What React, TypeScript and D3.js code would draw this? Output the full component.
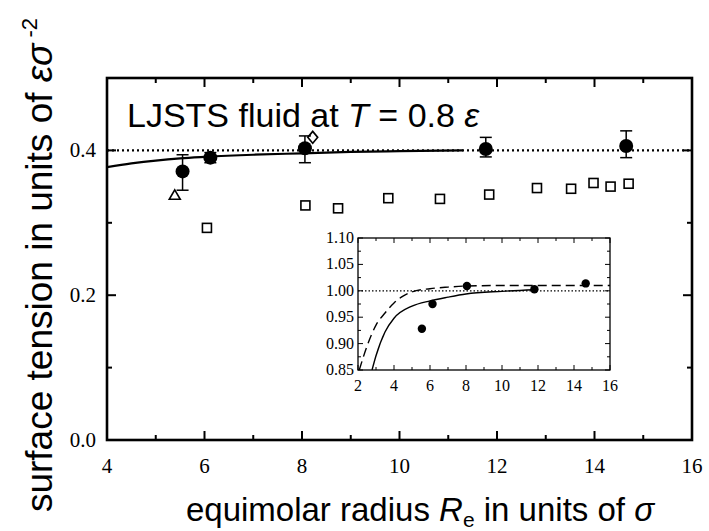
import React from "react";
import * as d3 from "d3";

// ---- data ----
const mainXTicks = [4, 6, 8, 10, 12, 14, 16];
const mainXMinor = [5, 7, 9, 11, 13, 15];
const mainYTicks = [0.0, 0.2, 0.4];
const mainYMinor = [0.1, 0.3];

const circleX = [5.55, 6.12, 8.06, 11.77, 14.65];
const circleY = [0.371, 0.390, 0.403, 0.402, 0.406];
const circleLo = [0.345, 0.383, 0.383, 0.391, 0.390];
const circleHi = [0.394, 0.397, 0.420, 0.418, 0.427];

const squareX = [6.05, 8.07, 8.74, 9.77, 10.83, 11.84, 12.82, 13.52, 13.98, 14.33, 14.7];
const squareY = [0.293, 0.324, 0.320, 0.334, 0.333, 0.339, 0.348, 0.347, 0.355, 0.350, 0.354];

const triangleX = [5.39];
const triangleY = [0.338];
const diamondX = [8.22];
const diamondY = [0.418];

const curveX = [4, 4.5, 5, 5.5, 6, 7, 8, 9, 10, 11.3];
const curveY = [0.377, 0.382, 0.386, 0.389, 0.391, 0.394, 0.396, 0.398, 0.399, 0.4];

const refLevel = 0.4;

// inset
const insetXTicks = [2, 4, 6, 8, 10, 12, 14, 16];
const insetXMinor = [3, 5, 7, 9, 11, 13, 15];
const insetYTicks = [0.85, 0.9, 0.95, 1.0, 1.05, 1.1];
const insetYMinor = [0.875, 0.925, 0.975, 1.025, 1.075];
const insetPtX = [5.55, 6.14, 8.05, 11.8, 14.65];
const insetPtY = [0.928, 0.975, 1.009, 1.003, 1.014];
const solidX = [2.78, 3, 3.5, 4, 5, 6, 7, 8, 10, 11.8];
const solidY = [0.85, 0.877, 0.922, 0.948, 0.971, 0.981, 0.988, 0.994, 0.999, 1.002];
const dashX = [2.07, 2.5, 3, 3.5, 4, 4.5, 5, 6, 7, 8, 10, 12, 14, 16];
const dashY = [0.85, 0.895, 0.935, 0.958, 0.977, 0.99, 0.998, 1.004, 1.007, 1.009, 1.01, 1.01, 1.01, 1.01];
const insetRef = 1.0;

// ---- layout ----
const W = 709, H = 531;
const M = { left: 107, right: 692, top: 78, bottom: 440 };
const I = { left: 358, right: 610, top: 238, bottom: 370 };
const SANS = "Liberation Sans, Arial, sans-serif";
const SERIF = "Liberation Serif, Times New Roman, DejaVu Serif, serif";

export default function App() {
  const x = d3.scaleLinear().domain([4, 16]).range([M.left, M.right]);
  const y = d3.scaleLinear().domain([0, 0.5]).range([M.bottom, M.top]);
  const ix = d3.scaleLinear().domain([2, 16]).range([I.left, I.right]);
  const iy = d3.scaleLinear().domain([0.85, 1.1]).range([I.bottom, I.top]);

  const line = d3.line<[number, number]>().x(d => x(d[0])).y(d => y(d[1])).curve(d3.curveMonotoneX);
  const iline = d3.line<[number, number]>().x(d => ix(d[0])).y(d => iy(d[1])).curve(d3.curveMonotoneX);

  const curvePts = curveX.map((v, i) => [v, curveY[i]] as [number, number]);
  const solidPts = solidX.map((v, i) => [v, solidY[i]] as [number, number]);
  const dashPts = dashX.map((v, i) => [v, dashY[i]] as [number, number]);

  const major = 9, minor = 5;
  const imajor = 5, iminor = 3;
  const serifStyle = { fontFamily: SERIF };

  return (
    <svg width={W} height={H} style={{ position: "absolute", left: 0, top: 0, background: "#fff" }}>
      <defs>
        <clipPath id="mainclip"><rect x={M.left} y={M.top} width={M.right - M.left} height={M.bottom - M.top} /></clipPath>
        <clipPath id="insetclip"><rect x={I.left} y={I.top} width={I.right - I.left} height={I.bottom - I.top} /></clipPath>
      </defs>

      {/* main ticks */}
      <g stroke="#000" strokeWidth={2}>
        {mainXTicks.map(t => (
          <g key={"xt" + t}>
            <line x1={x(t)} x2={x(t)} y1={M.bottom} y2={M.bottom - major} />
            <line x1={x(t)} x2={x(t)} y1={M.top} y2={M.top + major} />
          </g>
        ))}
        {mainXMinor.map(t => (
          <g key={"xm" + t}>
            <line x1={x(t)} x2={x(t)} y1={M.bottom} y2={M.bottom - minor} />
            <line x1={x(t)} x2={x(t)} y1={M.top} y2={M.top + minor} />
          </g>
        ))}
        {mainYTicks.map(t => (
          <g key={"yt" + t}>
            <line x1={M.left} x2={M.left + major} y1={y(t)} y2={y(t)} />
            <line x1={M.right} x2={M.right - major} y1={y(t)} y2={y(t)} />
          </g>
        ))}
        {mainYMinor.map(t => (
          <g key={"ym" + t}>
            <line x1={M.left} x2={M.left + minor} y1={y(t)} y2={y(t)} />
            <line x1={M.right} x2={M.right - minor} y1={y(t)} y2={y(t)} />
          </g>
        ))}
      </g>

      {/* main tick labels */}
      {mainXTicks.map(t => (
        <text key={"xl" + t} x={x(t)} y={M.bottom + 33} textAnchor="middle" style={serifStyle} fontSize={21} fill="#000">{t}</text>
      ))}
      {mainYTicks.map(t => (
        <text key={"yl" + t} x={M.left - 11} y={y(t) + 7} textAnchor="end" style={serifStyle} fontSize={21} fill="#000">{d3.format(".1f")(t)}</text>
      ))}

      <g clipPath="url(#mainclip)">
        <line x1={M.left} x2={M.right} y1={y(refLevel)} y2={y(refLevel)} stroke="#000" strokeWidth={2.2} strokeDasharray="2,3" />
        <path d={line(curvePts) || ""} fill="none" stroke="#000" strokeWidth={2.2} />
      </g>

      {/* open symbols */}
      <g fill="none" stroke="#000" strokeWidth={1.6}>
        {squareX.map((v, i) => (
          <rect key={"sq" + i} x={x(v) - 4.5} y={y(squareY[i]) - 4.5} width={9} height={9} />
        ))}
        {triangleX.map((v, i) => {
          const cx = x(v), cy = y(triangleY[i]);
          return <path key={"tr" + i} d={`M${cx},${cy - 5.5}L${cx + 5.5},${cy + 4}L${cx - 5.5},${cy + 4}Z`} />;
        })}
        {diamondX.map((v, i) => {
          const cx = x(v), cy = y(diamondY[i]);
          return <path key={"dm" + i} d={`M${cx},${cy - 6}L${cx + 5},${cy}L${cx},${cy + 6}L${cx - 5},${cy}Z`} />;
        })}
      </g>

      {/* error bars & circles */}
      <g stroke="#000" strokeWidth={1.5}>
        {circleX.map((v, i) => (
          <g key={"eb" + i}>
            <line x1={x(v)} x2={x(v)} y1={y(circleLo[i])} y2={y(circleHi[i])} />
            <line x1={x(v) - 6} x2={x(v) + 6} y1={y(circleLo[i])} y2={y(circleLo[i])} />
            <line x1={x(v) - 6} x2={x(v) + 6} y1={y(circleHi[i])} y2={y(circleHi[i])} />
          </g>
        ))}
      </g>
      <g fill="#000">
        {circleX.map((v, i) => (
          <circle key={"c" + i} cx={x(v)} cy={y(circleY[i])} r={7} />
        ))}
      </g>

      {/* frame */}
      <rect x={M.left} y={M.top} width={M.right - M.left} height={M.bottom - M.top} fill="none" stroke="#000" strokeWidth={2.6} />

      {/* title */}
      <text x={127} y={127} fontFamily={SANS} fontSize={34} fill="#000">
        LJSTS fluid at <tspan fontStyle="italic">T</tspan> = 0.8 <tspan fontStyle="italic">ε</tspan>
      </text>

      {/* inset */}
      <rect x={I.left} y={I.top} width={I.right - I.left} height={I.bottom - I.top} fill="#fff" stroke="none" />
      <g stroke="#000" strokeWidth={1}>
        {insetXTicks.map(t => (
          <g key={"ixt" + t}>
            <line x1={ix(t)} x2={ix(t)} y1={I.bottom} y2={I.bottom - imajor} />
            <line x1={ix(t)} x2={ix(t)} y1={I.top} y2={I.top + imajor} />
          </g>
        ))}
        {insetXMinor.map(t => (
          <g key={"ixm" + t}>
            <line x1={ix(t)} x2={ix(t)} y1={I.bottom} y2={I.bottom - iminor} />
            <line x1={ix(t)} x2={ix(t)} y1={I.top} y2={I.top + iminor} />
          </g>
        ))}
        {insetYTicks.map(t => (
          <g key={"iyt" + t}>
            <line x1={I.left} x2={I.left + imajor} y1={iy(t)} y2={iy(t)} />
            <line x1={I.right} x2={I.right - imajor} y1={iy(t)} y2={iy(t)} />
          </g>
        ))}
        {insetYMinor.map(t => (
          <g key={"iym" + t}>
            <line x1={I.left} x2={I.left + iminor} y1={iy(t)} y2={iy(t)} />
            <line x1={I.right} x2={I.right - iminor} y1={iy(t)} y2={iy(t)} />
          </g>
        ))}
      </g>
      <g clipPath="url(#insetclip)">
        <line x1={I.left} x2={I.right} y1={iy(insetRef)} y2={iy(insetRef)} stroke="#000" strokeWidth={1.2} strokeDasharray="1.5,2" />
        <path d={iline(solidPts) || ""} fill="none" stroke="#000" strokeWidth={1.4} />
        <path d={iline(dashPts) || ""} fill="none" stroke="#000" strokeWidth={1.4} strokeDasharray="9,5" />
      </g>
      <g fill="#000">
        {insetPtX.map((v, i) => (
          <circle key={"ip" + i} cx={ix(v)} cy={iy(insetPtY[i])} r={4.2} />
        ))}
      </g>
      <rect x={I.left} y={I.top} width={I.right - I.left} height={I.bottom - I.top} fill="none" stroke="#000" strokeWidth={1.3} />
      {insetXTicks.map(t => (
        <text key={"ixl" + t} x={ix(t)} y={I.bottom + 21} textAnchor="middle" style={serifStyle} fontSize={16} fill="#000">{t}</text>
      ))}
      {insetYTicks.map(t => (
        <text key={"iyl" + t} x={I.left - 4} y={iy(t) + 5} textAnchor="end" style={serifStyle} fontSize={16} fill="#000">{d3.format(".2f")(t)}</text>
      ))}

      {/* axis labels */}
      <text x={420} y={521} textAnchor="middle" fontFamily={SANS} fontSize={33} fill="#000">
        equimolar radius <tspan fontStyle="italic">R</tspan><tspan fontSize={21} dy={6}>e</tspan><tspan dy={-6}> in units of </tspan><tspan fontStyle="italic">σ</tspan>
      </text>
      <text transform={`translate(52, 265) rotate(-90)`} textAnchor="middle" fontFamily={SANS} fontSize={37} fill="#000">
        surface tension in units of <tspan fontStyle="italic">εσ</tspan><tspan fontSize={22} dy={-15}> -2</tspan>
      </text>
    </svg>
  );
}
